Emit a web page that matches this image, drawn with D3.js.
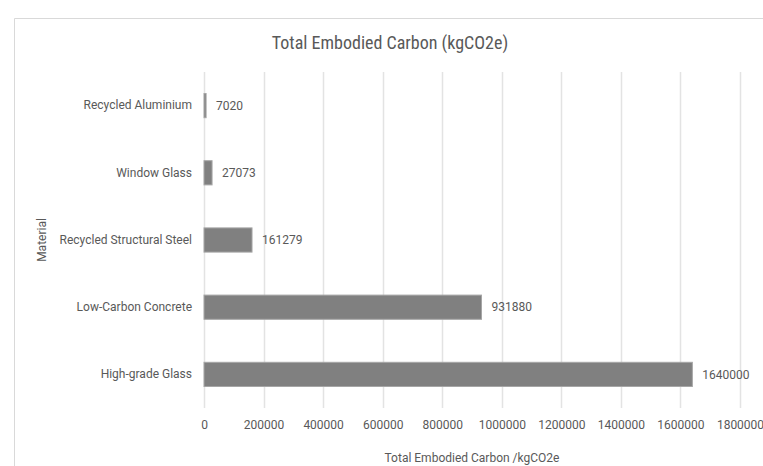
<!DOCTYPE html>
<html>
<head>
<meta charset="utf-8">
<script src="https://cdn.jsdelivr.net/npm/d3@7"></script>
<style>
  html, body { margin: 0; background: #fff; overflow: hidden; }
  svg { display: block; }
  text { font-family: Roboto, "Open Sans", sans-serif; fill: #595959; }
</style>
</head>
<body>
<div id="chart"></div>
<script>
  // data
  var materials = ["Recycled Aluminium", "Window Glass", "Recycled Structural Steel", "Low-Carbon Concrete", "High-grade Glass"];
  var carbon = [7020, 27073, 161279, 931880, 1640000];
  var xTicks = [0, 200000, 400000, 600000, 800000, 1000000, 1200000, 1400000, 1600000, 1800000];

  var width = 763, height = 466;
  var margin = {top: 72, right: 23, bottom: 58, left: 204};
  var innerW = width - margin.left - margin.right,
      innerH = height - margin.top - margin.bottom;

  var svg = d3.select("#chart").append("svg")
      .attr("width", width)
      .attr("height", height);

  // chart frame: only top and left edges are visible in the screenshot
  svg.append("path")
      .attr("d", "M14.5," + height + "V18.5H" + width)
      .attr("fill", "none")
      .attr("stroke", "#d9d9d9");

  var x = d3.scaleLinear().domain([0, 1800000]).range([0, 536]);
  var y = d3.scaleBand().domain(materials).range([0, innerH]).paddingInner(0.64).paddingOuter(0.32);

  var g = svg.append("g")
      .attr("transform", "translate(" + margin.left + "," + margin.top + ")");

  // gridlines
  g.selectAll(".grid")
      .data(xTicks)
    .enter().append("line")
      .attr("class", "grid")
      .attr("x1", function(d) { return Math.round(x(d)) + 0.5; })
      .attr("x2", function(d) { return Math.round(x(d)) + 0.5; })
      .attr("y1", 0)
      .attr("y2", innerH)
      .attr("stroke", "#e3e3e3")
      .attr("stroke-width", 1.5);

  // x axis labels
  var xAxis = d3.axisBottom(x).tickValues(xTicks).tickFormat(d3.format("d")).tickSize(0).tickPadding(12);
  var xa = g.append("g")
      .attr("transform", "translate(0," + innerH + ")")
      .call(xAxis);
  xa.select(".domain").remove();
  xa.selectAll("text").style("font-size", "12px").attr("fill", "#595959");

  // y axis labels
  var yAxis = d3.axisLeft(y).tickSize(0).tickPadding(12);
  var ya = g.append("g").call(yAxis);
  ya.select(".domain").remove();
  ya.selectAll("text").style("font-size", "12px").attr("fill", "#595959");

  // bars
  g.selectAll(".bar")
      .data(carbon)
    .enter().append("rect")
      .attr("class", "bar")
      .attr("x", 0)
      .attr("y", function(d, i) { return y(materials[i]); })
      .attr("width", function(d) { return x(d); })
      .attr("height", y.bandwidth())
      .attr("fill", "#808080")
      .attr("stroke", "#a6a6a6")
      .attr("stroke-width", 1);

  // value labels
  g.selectAll(".val")
      .data(carbon)
    .enter().append("text")
      .attr("class", "val")
      .attr("x", function(d) { return x(d) + 10; })
      .attr("y", function(d, i) { return y(materials[i]) + y.bandwidth() / 2; })
      .attr("dy", ".35em")
      .style("font-size", "12px")
      .text(function(d) { return d; });

  // title
  svg.append("text")
      .attr("x", 390)
      .attr("y", 49)
      .attr("text-anchor", "middle")
      .style("font-size", "18px")
      .style("font-stretch", "condensed")
      .text("Total Embodied Carbon (kgCO2e)");

  // axis titles
  svg.append("text")
      .attr("x", margin.left + x(900000))
      .attr("y", 462)
      .attr("text-anchor", "middle")
      .style("font-size", "12px")
      .text("Total Embodied Carbon /kgCO2e");

  svg.append("text")
      .attr("transform", "translate(46," + (margin.top + innerH / 2) + ") rotate(-90)")
      .attr("text-anchor", "middle")
      .style("font-size", "12px")
      .text("Material");
</script>
</body>
</html>
